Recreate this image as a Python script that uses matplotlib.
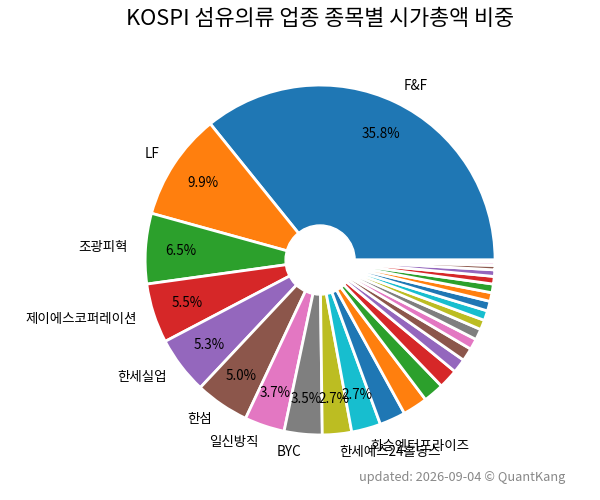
import matplotlib
matplotlib.use("Agg")
import matplotlib.pyplot as plt
from matplotlib.patches import Circle

plt.rcParams['font.family'] = ['Noto Sans CJK KR', 'DejaVu Sans']

# ================= DATA =================

names = [
    "F&F", "LF", "조광피혁", "제이에스코퍼레이션", "한세실업",
    "한섬", "일신방직", "BYC", "한세예스24홀딩스", "화승엔터프라이즈",
    "신원", "경방", "대한방직", "전방", "방림",
    "동일방직", "SG세계물산", "남영비비안", "형지I&C", "쌍방울",
    "디아이동일", "국동", "TBH글로벌", "코데즈컴바인", "동일방직우",
    "우노앤컴퍼니", "진도", "신원우",
]

weights = [
    35.8, 9.9, 6.5, 5.5, 5.3,
    5.0, 3.7, 3.5, 2.7, 2.7,
    2.4, 2.3, 1.9, 1.8, 1.3,
    1.2, 1.0, 1.0, 0.9, 0.9,
    0.9, 0.8, 0.8, 0.7, 0.6,
    0.4, 0.3, 0.2,
]

top_n = 10

labels = [n if i < top_n else "" for i, n in enumerate(names)]

# ================= PLOT =================

fig = plt.figure(figsize=(6, 5), dpi=100)
ax = fig.add_axes([0.169, 0.0425, 0.729, 0.875])

wedges, texts, autotexts = ax.pie(
    weights,
    labels=labels,
    autopct=lambda p: f"{p:.1f}%" if p >= 2.5 else "",
    pctdistance=0.8,
    labeldistance=1.1,
    startangle=0,
    counterclock=True,
    wedgeprops=dict(edgecolor="white", linewidth=2),
    textprops=dict(fontsize=9.7),
)

ax.add_patch(Circle((0, 0), 0.2, color="white", zorder=5))

ax.set_title(
    "KOSPI 섬유의류 업종 종목별 시가총액 비중",
    fontsize=15.7,
    pad=12,
)

fig.text(
    0.942, 0.044,
    "updated: 2026-09-04 © QuantKang",
    ha="right",
    va="center",
    fontsize=9.2,
    color="#888888",
)

fig.savefig("out.png", dpi=100)
